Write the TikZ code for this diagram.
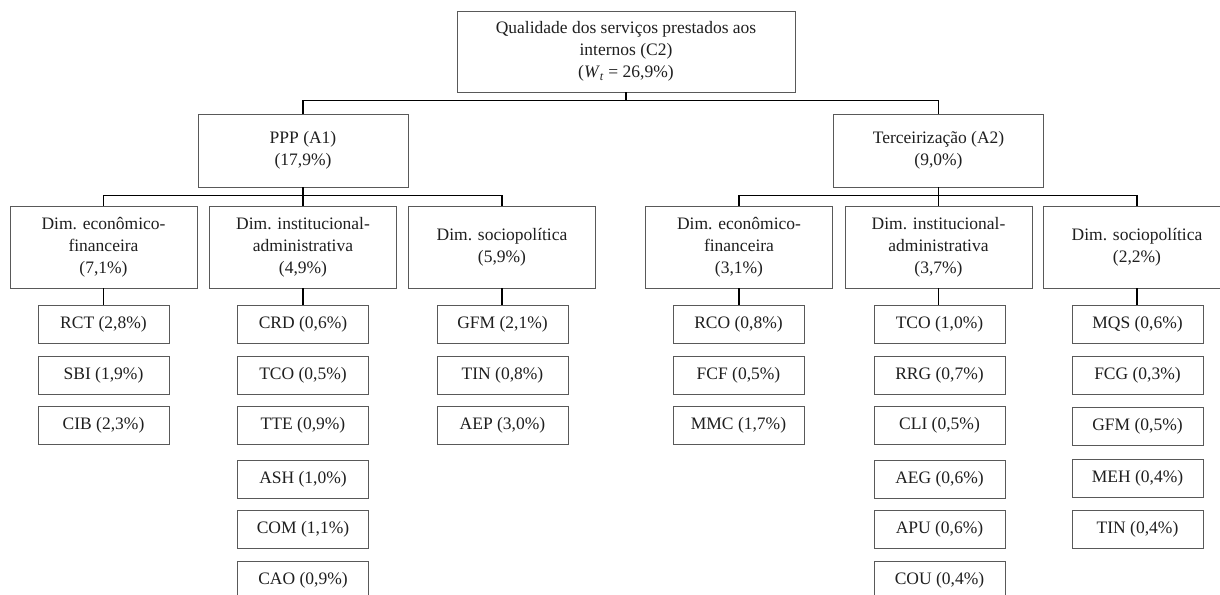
\documentclass[tikz,border=0pt]{standalone}
\usepackage{fontspec}
\setmainfont{Liberation Serif}
\begin{document}
\begin{tikzpicture}[x=1pt,y=1pt,
  every node/.style={font=\fontsize{17.5}{22}\selectfont, text=black!88},
  box/.style={draw=black!65, line width=0.9pt, align=center, inner sep=0pt, fill=white},
  rootbox/.style={box, minimum width=338, minimum height=81},
  altbox/.style={box, minimum width=210, minimum height=73},
  dimbox/.style={box, minimum width=187, minimum height=82},
  leafbox/.style={box, minimum width=131, minimum height=38},
  link/.style={draw=black, line width=1.7pt}
]
\clip (0,0) rectangle (1220,-594);
\fill[white] (0,0) rectangle (1220,-594);

% root and alternatives
\node[rootbox] (root) at (626,-51.5) {Qualidade dos serviços prestados aos\\internos (C2)\\(\textit{W}\textsubscript{\textit{t}} = 26,9\%)};
\node[altbox] (ppp) at (303,-150.5) {PPP (A1)\\(17,9\%)};
\node[altbox] (ter) at (938.5,-150.5) {Terceirização (A2)\\(9,0\%)};

% dimensions
\node[dimbox] (pe) at (103.5,-247) {Dim. econômico-\\financeira\\(7,1\%)};
\node[dimbox] (pi) at (303,-247) {Dim. institucional-\\administrativa\\(4,9\%)};
\node[dimbox] (ps) at (502,-247) {Dim. sociopolítica\\(5,9\%)};
\node[dimbox] (te) at (739,-247) {Dim. econômico-\\financeira\\(3,1\%)};
\node[dimbox] (ti) at (938.5,-247) {Dim. institucional-\\administrativa\\(3,7\%)};
\node[dimbox] (ts) at (1137,-247) {Dim. sociopolítica\\(2,2\%)};

% indicators
\node[leafbox] (pe1) at (103.5,-324) {RCT (2,8\%)};
\node[leafbox] (pe2) at (103.5,-375) {SBI (1,9\%)};
\node[leafbox] (pe3) at (103.5,-425) {CIB (2,3\%)};

\node[leafbox] (pi1) at (303,-324) {CRD (0,6\%)};
\node[leafbox] (pi2) at (303,-375) {TCO (0,5\%)};
\node[leafbox] (pi3) at (303,-425) {TTE (0,9\%)};
\node[leafbox] (pi4) at (303,-479) {ASH (1,0\%)};
\node[leafbox] (pi5) at (303,-529) {COM (1,1\%)};
\node[leafbox] (pi6) at (303,-580) {CAO (0,9\%)};

\node[leafbox] (ps1) at (502.5,-324.5) {GFM (2,1\%)};
\node[leafbox] (ps2) at (502.5,-375.5) {TIN (0,8\%)};
\node[leafbox] (ps3) at (502.5,-425.5) {AEP (3,0\%)};

\node[leafbox] (te1) at (738.5,-324) {RCO (0,8\%)};
\node[leafbox] (te2) at (738.5,-375) {FCF (0,5\%)};
\node[leafbox] (te3) at (738.5,-425) {MMC (1,7\%)};

\node[leafbox] (ti1) at (939.5,-324) {TCO (1,0\%)};
\node[leafbox] (ti2) at (939.5,-375) {RRG (0,7\%)};
\node[leafbox] (ti3) at (939.5,-425) {CLI (0,5\%)};
\node[leafbox] (ti4) at (939.5,-479) {AEG (0,6\%)};
\node[leafbox] (ti5) at (939.5,-529) {APU (0,6\%)};
\node[leafbox] (ti6) at (939.5,-580) {COU (0,4\%)};

\node[leafbox] (ts1) at (1137.5,-324.5) {MQS (0,6\%)};
\node[leafbox] (ts2) at (1137.5,-375.5) {FCG (0,3\%)};
\node[leafbox] (ts3) at (1137.5,-426) {GFM (0,5\%)};
\node[leafbox] (ts4) at (1137.5,-478.5) {MEH (0,4\%)};
\node[leafbox] (ts5) at (1137.5,-529.5) {TIN (0,4\%)};

% connectors
\draw[link] (root.south) -- ++(0,-9);
\draw[link] (ppp.north) -- ++(0,13) -| (ter.north);

\draw[link] (ppp.south) -- ++(0,-9);
\draw[link] (pe.north) -- ++(0,10) -| (ps.north);
\draw[link] (pi.north) -- ++(0,10);

\draw[link] (ter.south) -- ++(0,-9);
\draw[link] (te.north) -- ++(0,10) -| (ts.north);
\draw[link] (ti.north) -- ++(0,10);

\draw[link] (pe.south) -- (pe1.north);
\draw[link] (pi.south) -- (pi1.north);
\draw[link] (ps.south) -- (ps.south |- ps1.north);
\draw[link] (te.south) -- (te.south |- te1.north);
\draw[link] (ti.south) -- (ti.south |- ti1.north);
\draw[link] (ts.south) -- (ts.south |- ts1.north);
\end{tikzpicture}
\end{document}
